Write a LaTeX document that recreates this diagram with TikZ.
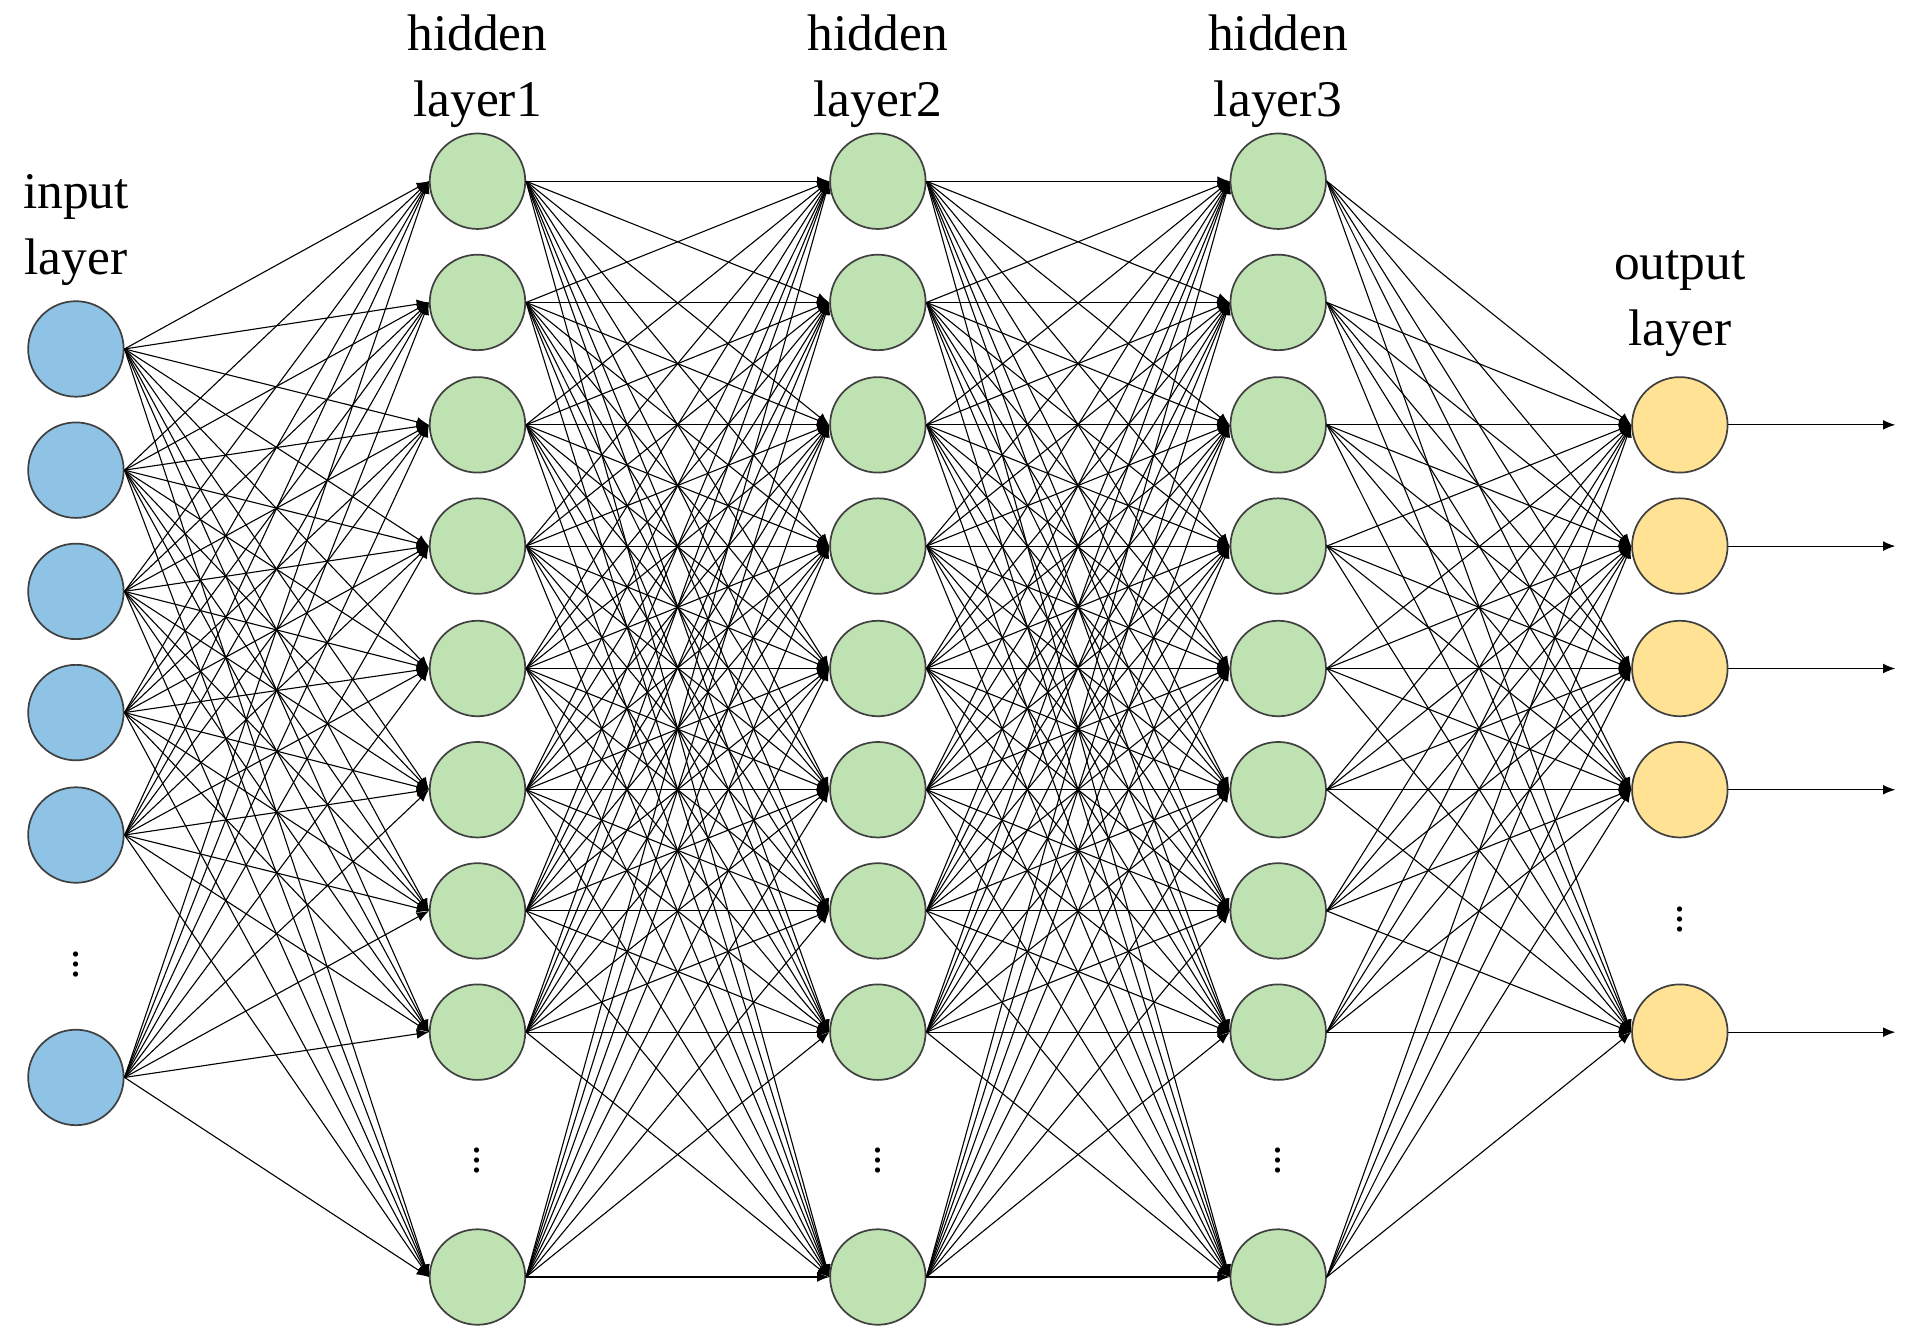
\documentclass[tikz,border=0pt]{standalone}
\usepackage{fontspec}
\setmainfont{Liberation Serif}
\usetikzlibrary{arrows.meta}
\definecolor{inblue}{HTML}{8EC3E6}
\definecolor{hidgreen}{HTML}{BFE2B2}
\definecolor{outyel}{HTML}{FFE293}
\begin{document}
\begin{tikzpicture}[x=0.5pt,y=-0.5pt,
  neuron/.style={circle,draw=black!75,line width=0.7pt,minimum size=39pt,inner sep=0pt},
  inn/.style={neuron,fill=inblue},
  hid/.style={neuron,fill=hidgreen},
  outn/.style={neuron,fill=outyel},
  conn/.style={line width=0.45pt,-{Latex[length=5pt,width=4pt]}},
  lab/.style={font=\fontsize{21}{27}\selectfont,align=center},
  vdots/.style={font=\fontsize{18}{18}\selectfont}]
\useasboundingbox (0,0) rectangle (1560,1094);
% input layer
\foreach \y [count=\i] in {285,384,483,582,682,880}
  \node[inn] (i\i) at (62,\y) {};
\node[vdots] (id) at (62,782) {$\vdots$};
% hidden layers
\foreach \x [count=\l] in {390,717,1044}{
  \foreach \y [count=\i] in {148,247,347,446,546,645,744,843,1043}
    \node[hid] (h\l-\i) at (\x,\y) {};
  \node[vdots] (hd\l) at (\x,942) {$\vdots$};
}
% output layer
\foreach \y [count=\i] in {347,446,546,645,843}
  \node[outn] (o\i) at (1372,\y) {};
\node[vdots] (od) at (1372,745) {$\vdots$};
% labels
\node[lab] (li) at (62,188) {input\\layer};
\node[lab] (lh1) at (390,58) {hidden\\layer1};
\node[lab] (lh2) at (717,58) {hidden\\layer2};
\node[lab] (lh3) at (1044,58) {hidden\\layer3};
\node[lab] (lo) at (1372,248) {output\\layer};
% connections
\foreach \a in {1,...,6}\foreach \b in {1,...,9}
  \draw[conn] (i\a.east) -- (h1-\b.west);
\foreach \a in {1,...,9}\foreach \b in {1,...,9}{
  \draw[conn] (h1-\a.east) -- (h2-\b.west);
  \draw[conn] (h2-\a.east) -- (h3-\b.west);}
\foreach \a in {1,...,9}\foreach \b in {1,...,5}
  \draw[conn] (h3-\a.east) -- (o\b.west);
\foreach \b in {1,...,5}{
  \coordinate (e\b) at (1548,0 |- o\b);
  \draw[conn] (o\b.east) -- (e\b);}
\end{tikzpicture}
\end{document}
